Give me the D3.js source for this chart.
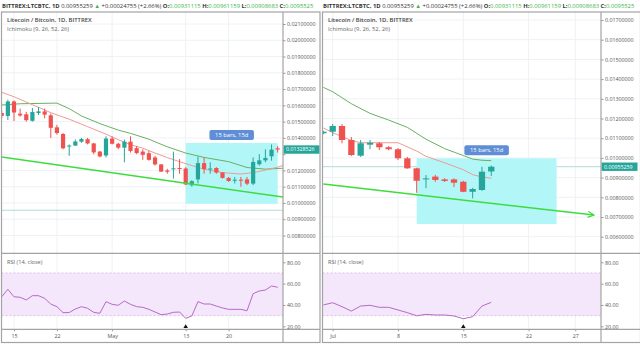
<!DOCTYPE html>
<html><head><meta charset="utf-8">
<script src="https://cdn.jsdelivr.net/npm/d3@7"></script>
<style>
body{margin:0;background:#fff}
svg{display:block}
text{font-family:"Open Sans",sans-serif}
</style>
</head><body>
<svg id="chart" width="640" height="347"></svg>
<script>
// ---------------- DATA ----------------
const headerSymbol = "BITTREX:LTCBTC, 1D";
const headerLast = "0.00955259";
const headerChange = "+0.00024755 (+2.66%)";
const headerOHLCLabels = ["O:", "H:", "L:", "C:"];
// last value is shown cut off at the panel edge, as in the source
const headerOHLCValues = ["0.00931115", "0.00961159", "0.00908683", "0.0095525"];
const chartTitle = "Litecoin / Bitcoin, 1D, BITTREX";
const indicatorTitle = "Ichimoku (9, 26, 52, 26)";
const rsiTitle = "RSI (14, close)";
const boxLabel = "15 bars, 15d";

// Left chart (April–May)
const leftStart = "2019-04-13";
const leftOpen  = [0.01553,0.01535,0.01624,0.01549,0.01545,0.01505,0.01553,0.01563,0.01539,0.01465,0.01424,0.01347,0.01353,0.01377,0.01392,0.01366,0.01316,0.01292,0.01396,0.01364,0.01340,0.01377,0.01337,0.01316,0.01306,0.01280,0.01237,0.01200,0.01210,0.01215,0.01212,0.01109,0.01145,0.01245,0.01208,0.01215,0.01187,0.01154,0.01139,0.01143,0.01145,0.01119,0.01238,0.01262,0.01287,0.01336];
const leftHigh  = [0.01570,0.01635,0.01630,0.01580,0.01560,0.01584,0.01590,0.01580,0.01550,0.01480,0.01430,0.01360,0.01390,0.01400,0.01400,0.01370,0.01320,0.01410,0.01410,0.01370,0.01390,0.01410,0.01350,0.01330,0.01320,0.01290,0.01240,0.01210,0.01316,0.01270,0.01220,0.01140,0.01285,0.01280,0.01250,0.01220,0.01190,0.01160,0.01160,0.01160,0.01160,0.01280,0.01300,0.01330,0.01360,0.01350];
const leftLow   = [0.01520,0.01510,0.01504,0.01530,0.01500,0.01500,0.01540,0.01520,0.01400,0.01420,0.01330,0.01290,0.01350,0.01370,0.01360,0.01300,0.01280,0.01280,0.01360,0.01330,0.01250,0.01310,0.01300,0.01265,0.01260,0.01230,0.01190,0.01180,0.01150,0.01180,0.01110,0.01100,0.01120,0.01180,0.01180,0.01180,0.01150,0.01130,0.01120,0.01100,0.01110,0.01110,0.01230,0.01250,0.01260,0.01310];
const leftClose = [0.01535,0.01624,0.01556,0.01538,0.01509,0.01559,0.01563,0.01543,0.01462,0.01430,0.01336,0.01353,0.01378,0.01393,0.01366,0.01311,0.01286,0.01396,0.01364,0.01340,0.01377,0.01320,0.01307,0.01296,0.01265,0.01237,0.01193,0.01192,0.01213,0.01210,0.01114,0.01134,0.01245,0.01208,0.01212,0.01187,0.01154,0.01135,0.01143,0.01137,0.01119,0.01252,0.01262,0.01277,0.01328,0.01328526];
const leftRSI   = [47.7,54.7,47.7,47.2,44.7,48.7,48.7,46.2,40.9,38.4,32.8,32.9,36.2,38.4,36.9,33.1,32.2,43.1,40.6,39.7,43.7,40.6,38.4,37.8,35.9,33.4,30.9,31.5,33.1,33.4,27.5,29.7,43.1,40.9,40.9,39.0,37.2,35.9,35.9,35.9,34.6,50.6,53.1,54.0,57.8,56.6];
const leftGreenLine = [["2019-04-13",0.01602],["2019-04-16",0.01610],["2019-04-22",0.01614],["2019-04-24",0.01580],["2019-04-26",0.01535],["2019-04-29",0.01488],["2019-05-02",0.01448],["2019-05-04",0.01428],["2019-05-07",0.01392],["2019-05-10",0.01345],["2019-05-13",0.01307],["2019-05-16",0.01280],["2019-05-20",0.01254],["2019-05-23",0.01218],["2019-05-26",0.01208],["2019-05-29",0.01214]];
const leftRedLine = [["2019-04-13",0.01680],["2019-04-15",0.01653],["2019-04-18",0.01604],["2019-04-21",0.01555],["2019-04-24",0.01515],["2019-04-27",0.01469],["2019-04-30",0.01423],["2019-05-02",0.01389],["2019-05-04",0.01359],["2019-05-06",0.01337],["2019-05-08",0.01307],["2019-05-10",0.01279],["2019-05-12",0.01254],["2019-05-14",0.01230],["2019-05-16",0.01208],["2019-05-19",0.01187],["2019-05-22",0.01178],["2019-05-24",0.01187],["2019-05-26",0.01202],["2019-05-28",0.01220],["2019-05-29",0.01233]];
const leftTrend = [["2019-04-13",0.01282],["2019-05-29",0.01036]];
const leftBoxDates = ["2019-05-13","2019-05-28"];
const leftBoxPrices = [0.01369,0.00995];
const leftLastLabel = "0.01328526";
const leftLastPrice = 0.01328526;
const leftLowMarker = "2019-05-13";
const leftPriceTicks = [0.008,0.009,0.010,0.011,0.012,0.013,0.014,0.015,0.016,0.017,0.018,0.019,0.020,0.021];
const leftDateTicks = ["2019-04-15","2019-04-22","2019-05-01","2019-05-13","2019-05-20"];
const leftDateLabels = ["15","22","May","13","20"];

// Right chart (June–July)
const rightStart = "2019-06-30";
const rightOpen  = [0.011249,0.011330,0.011619,0.010909,0.010112,0.01067,0.01074,0.01054,0.01044,0.00998,0.00947,0.00891,0.00905,0.00891,0.00891,0.00879,0.00828,0.00837,0.00931115];
const rightHigh  = [0.01138,0.011721,0.01172,0.01106,0.01091,0.01091,0.01080,0.01060,0.01050,0.01005,0.00950,0.00913,0.00914,0.00897,0.00896,0.00884,0.00848,0.00955,0.00961159];
const rightLow   = [0.01120,0.011112,0.01074,0.01010,0.01005,0.01044,0.01040,0.01038,0.00989,0.00945,0.00823,0.00846,0.00878,0.00878,0.00852,0.00826,0.00795,0.00833,0.00908683];
const rightClose = [0.011330,0.011619,0.010909,0.010147,0.010741,0.01077,0.01054,0.01044,0.00998,0.00947,0.00884,0.00896,0.00888,0.00883,0.00874,0.00828,0.00842,0.00930,0.00955259];
const rightRSI   = [40.0,42.1,38.4,34.3,39.0,39.7,37.8,37.8,35.3,32.8,29.9,31.2,30.6,30.6,29.7,27.1,29.0,39.0,42.5];
const rightGreenLine = [["2019-06-30",0.01358],["2019-07-01",0.01336],["2019-07-03",0.01275],["2019-07-05",0.01226],["2019-07-07",0.01192],["2019-07-09",0.01155],["2019-07-11",0.01095],["2019-07-13",0.01047],["2019-07-15",0.01012],["2019-07-16",0.00994],["2019-07-17",0.00988],["2019-07-18",0.00986]];
const rightRedLine = [["2019-06-30",0.01152],["2019-07-01",0.01128],["2019-07-03",0.01088],["2019-07-04",0.01077],["2019-07-08",0.01077],["2019-07-10",0.01035],["2019-07-11",0.01008],["2019-07-13",0.00975],["2019-07-15",0.00940],["2019-07-16",0.00915],["2019-07-17",0.00903],["2019-07-18",0.00897]];
const rightTrend = [["2019-06-30",0.00867],["2019-07-29",0.00710]];
const rightBoxDates = ["2019-07-10","2019-07-25"];
const rightBoxPrices = [0.00998,0.006645];
const rightLastLabel = "0.00955259";
const rightLastPrice = 0.00955259;
const rightLowMarker = "2019-07-15";
const rightPriceTicks = [0.006,0.007,0.008,0.009,0.010,0.011,0.012,0.013,0.014,0.015,0.016,0.017];
const rightDateTicks = ["2019-07-01","2019-07-08","2019-07-15","2019-07-22","2019-07-27"];
const rightDateLabels = ["Jul","8","15","22","27"];

const rsiTicks = [20,40,60,80];
const rsiBand = [30,70];

// ---------------- LAYOUT ----------------
const parse = d3.utcParse("%Y-%m-%d");
const svg = d3.select("#chart");
const C = {
  up:"#26a69a", down:"#ef5350", green:"#6aaf62", red:"#ef9a94", trend:"#3ddc3d",
  box:"#b3f6f8", label:"#5f8ed6", frame:"#a3a3a3", grid:"#eef2f5", text:"#555",
  rsi:"#b46cc4", band:"#f4e6fb", bandLine:"#d6b6de", priceLine:"#b2dcd8"
};

const panels = [
  {id:"L", x0:1.5, x1:320, axisX:283, top:12, mainBottom:253.3, rsiBottom:329.3, bottom:342.5,
   xAnchor:["2019-04-15","2019-05-13"], xPx:[14,185.7], yDom:[0.010,0.021], yPx:[203,24], bodyW:4.2,
   start:leftStart, open:leftOpen, high:leftHigh, low:leftLow, close:leftClose, rsi:leftRSI,
   greenLine:leftGreenLine, redLine:leftRedLine, trend:leftTrend, boxDates:leftBoxDates, boxPrices:leftBoxPrices,
   lastLabel:leftLastLabel, lastPrice:leftLastPrice, lowMarker:leftLowMarker, priceTicks:leftPriceTicks,
   dateTicks:leftDateTicks, dateLabels:leftDateLabels, arrow:false},
  {id:"R", x0:322.5, x1:640.5, axisX:601, top:12, mainBottom:253.3, rsiBottom:329.3, bottom:342.5,
   xAnchor:["2019-07-01","2019-07-15"], xPx:[332.7,463.3], yDom:[0.006,0.017], yPx:[236.7,20], bodyW:6.3,
   start:rightStart, open:rightOpen, high:rightHigh, low:rightLow, close:rightClose, rsi:rightRSI,
   greenLine:rightGreenLine, redLine:rightRedLine, trend:rightTrend, boxDates:rightBoxDates, boxPrices:rightBoxPrices,
   lastLabel:rightLastLabel, lastPrice:rightLastPrice, lowMarker:rightLowMarker, priceTicks:rightPriceTicks,
   dateTicks:rightDateTicks, dateLabels:rightDateLabels, arrow:true}
];

const defs = svg.append("defs");
defs.append("marker").attr("id","arrowHead").attr("viewBox","0 0 10 10").attr("refX",9).attr("refY",5)
  .attr("markerWidth",5).attr("markerHeight",5).attr("orient","auto")
  .append("path").attr("d","M1,1 L9,5 L1,9").attr("fill","none").attr("stroke",C.trend).attr("stroke-width",1.6);

const rsiY = d3.scaleLinear().domain([20,80]).range([326.3,262.3]);

panels.forEach(p => {
  const x = d3.scaleUtc().domain(p.xAnchor.map(parse)).range(p.xPx);
  const y = d3.scaleLinear().domain(p.yDom).range(p.yPx);
  const g = svg.append("g");

  // clips
  defs.append("clipPath").attr("id","main"+p.id).append("rect")
    .attr("x",p.x0).attr("y",p.top).attr("width",p.axisX-p.x0).attr("height",p.mainBottom-p.top);
  defs.append("clipPath").attr("id","rsi"+p.id).append("rect")
    .attr("x",p.x0).attr("y",p.mainBottom).attr("width",p.axisX-p.x0).attr("height",p.rsiBottom-p.mainBottom);

  // header
  const head = g.append("text").attr("x",p.x0+0.5).attr("y",8.2).attr("font-size",5.85).attr("fill","#333");
  head.append("tspan").attr("font-weight","bold").text(headerSymbol);
  head.append("tspan").text(" " + headerLast + " ");
  head.append("tspan").attr("fill","#3bb54a").text("▲");
  head.append("tspan").text(" " + headerChange);
  headerOHLCLabels.forEach((l,i) => {
    head.append("tspan").attr("font-weight","bold").text(" " + l);
    head.append("tspan").attr("fill","#3bb54a").text(headerOHLCValues[i]);
  });

  const mainG = g.append("g").attr("clip-path","url(#main"+p.id+")");
  const rsiG = g.append("g").attr("clip-path","url(#rsi"+p.id+")");

  // grid
  const dTicks = p.dateTicks.map(parse);
  mainG.selectAll(".vg").data(dTicks).join("line")
    .attr("x1",d=>x(d)).attr("x2",d=>x(d)).attr("y1",p.top).attr("y2",p.mainBottom)
    .attr("stroke",C.grid).attr("stroke-width",1);
  mainG.selectAll(".hg").data(p.priceTicks).join("line")
    .attr("x1",p.x0).attr("x2",p.axisX).attr("y1",d=>y(d)).attr("y2",d=>y(d))
    .attr("stroke",C.grid).attr("stroke-width",1);
  rsiG.selectAll(".vg").data(dTicks).join("line")
    .attr("x1",d=>x(d)).attr("x2",d=>x(d)).attr("y1",p.mainBottom).attr("y2",p.rsiBottom)
    .attr("stroke",C.grid).attr("stroke-width",1);

  // current price line
  mainG.append("line").attr("x1",p.x0).attr("x2",p.axisX)
    .attr("y1",y(rightLastPrice)).attr("y2",y(rightLastPrice))
    .attr("stroke",C.priceLine).attr("stroke-width",1);

  // date range box
  const bx0 = x(parse(p.boxDates[0])), bx1 = x(parse(p.boxDates[1]));
  const by0 = y(p.boxPrices[0]), by1 = y(p.boxPrices[1]);
  mainG.append("rect").attr("x",bx0).attr("y",by0).attr("width",bx1-bx0).attr("height",by1-by0)
    .attr("fill",C.box);

  // ichimoku lines
  const line = d3.line().x(d=>x(parse(d[0]))).y(d=>y(d[1]));
  mainG.append("path").attr("d",line(p.greenLine)).attr("fill","none").attr("stroke",C.green).attr("stroke-width",1);
  mainG.append("path").attr("d",line(p.redLine)).attr("fill","none").attr("stroke",C.red).attr("stroke-width",1);

  // candles
  const candles = p.open.map((o,i) => ({date:d3.utcDay.offset(parse(p.start),i), o, h:p.high[i], l:p.low[i], c:p.close[i]}));
  const cg = mainG.selectAll(".candle").data(candles).join("g");
  cg.append("line").attr("x1",d=>x(d.date)).attr("x2",d=>x(d.date))
    .attr("y1",d=>y(d.h)).attr("y2",d=>y(d.l))
    .attr("stroke",d=>d.c>=d.o?C.up:C.down).attr("stroke-width",1);
  cg.append("rect").attr("x",d=>x(d.date)-p.bodyW/2).attr("width",p.bodyW)
    .attr("y",d=>y(Math.max(d.o,d.c))).attr("height",d=>Math.max(1,Math.abs(y(d.o)-y(d.c))))
    .attr("fill",d=>d.c>=d.o?C.up:C.down);

  // trend line
  const tl = mainG.append("path").attr("d",line(p.trend)).attr("fill","none")
    .attr("stroke",C.trend).attr("stroke-width",1.5);
  if (p.arrow) tl.attr("marker-end","url(#arrowHead)");

  // box label
  const lw = 44.5, lh = 10;
  const lcx = (bx0+bx1)/2;
  g.append("rect").attr("x",lcx-lw/2).attr("y",by0-lh-3).attr("width",lw).attr("height",lh)
    .attr("rx",2).attr("fill",C.label);
  g.append("text").attr("x",lcx).attr("y",by0-3-lh/2).attr("dy","0.35em").attr("text-anchor","middle")
    .attr("font-size",5.8).attr("fill","#fff").text(boxLabel);

  // titles
  g.append("text").attr("x",p.x0+5.5).attr("y",22).attr("font-size",5.9).attr("font-weight",600)
    .attr("fill","#444").text(chartTitle);
  g.append("text").attr("x",p.x0+5.5).attr("y",30.6).attr("font-size",5.8).attr("fill","#666").text(indicatorTitle);
  g.append("text").attr("x",p.x0+5.5).attr("y",263.6).attr("font-size",5.6).attr("fill","#666").text(rsiTitle);

  // RSI band and line
  rsiG.append("rect").attr("x",p.x0).attr("width",p.axisX-p.x0)
    .attr("y",rsiY(rsiBand[1])).attr("height",rsiY(rsiBand[0])-rsiY(rsiBand[1])).attr("fill",C.band);
  rsiG.selectAll(".bl").data(rsiBand).join("line")
    .attr("x1",p.x0).attr("x2",p.axisX).attr("y1",d=>rsiY(d)).attr("y2",d=>rsiY(d))
    .attr("stroke",C.bandLine).attr("stroke-width",0.8).attr("stroke-dasharray","2,2");
  const rline = d3.line().x((d,i)=>x(d3.utcDay.offset(parse(p.start),i))).y(d=>rsiY(d));
  rsiG.append("path").attr("d",rline(p.rsi)).attr("fill","none").attr("stroke",C.rsi).attr("stroke-width",1);

  // low marker triangle
  const mx = x(parse(p.lowMarker));
  g.append("path").attr("d",d3.symbol().type(d3.symbolTriangle).size(9)())
    .attr("transform",`translate(${mx},${326.8})`).attr("fill","#111");

  // axes
  const ly = y(p.lastPrice);
  const pAxis = d3.axisRight(y).tickValues(p.priceTicks).tickFormat(d3.format(".8f")).tickSize(2.5).tickPadding(1.5);
  const pa = g.append("g").attr("transform",`translate(${p.axisX},0)`).call(pAxis);
  const rAxis = d3.axisRight(rsiY).tickValues(rsiTicks).tickFormat(d3.format(".2f")).tickSize(2.5).tickPadding(1.5);
  const ra = g.append("g").attr("transform",`translate(${p.axisX},0)`).call(rAxis);
  const xAxis = d3.axisBottom(x).tickValues(dTicks).tickFormat((d,i)=>p.dateLabels[i]).tickSize(2).tickPadding(3);
  const xa = g.append("g").attr("transform",`translate(0,${p.rsiBottom})`).call(xAxis);
  [pa,ra,xa].forEach(a => {
    a.select(".domain").remove();
    a.selectAll("line").attr("stroke","#999");
    a.selectAll("text").attr("fill",C.text).attr("font-size",5.3).attr("font-family","'Open Sans',sans-serif");
  });
  pa.selectAll(".tick").filter(d => y(d) < p.top + 4 || y(d) > p.mainBottom - 4).remove();
  pa.selectAll(".tick").filter(d => Math.abs(y(d) - ly) < 7).select("text").remove();

  // last price label
  g.append("rect").attr("x",p.axisX+0.5).attr("y",ly-4.2).attr("width",36).attr("height",8.4).attr("fill",C.up);
  g.append("text").attr("x",p.axisX+3).attr("y",ly).attr("dy","0.35em").attr("font-size",5.3)
    .attr("fill","#fff").text(p.lastLabel);

  // frames
  const fr = g.append("g").attr("stroke",C.frame).attr("stroke-width",1.2).attr("fill","none");
  fr.append("rect").attr("x",p.x0).attr("y",p.top).attr("width",p.x1-p.x0).attr("height",p.bottom-p.top);
  fr.append("line").attr("x1",p.axisX).attr("x2",p.axisX).attr("y1",p.top).attr("y2",p.bottom);
  fr.append("line").attr("x1",p.x0).attr("x2",p.x1).attr("y1",p.mainBottom).attr("y2",p.mainBottom);
  fr.append("line").attr("x1",p.x0).attr("x2",p.x1).attr("y1",p.rsiBottom).attr("y2",p.rsiBottom);
});
</script>
</body></html>
